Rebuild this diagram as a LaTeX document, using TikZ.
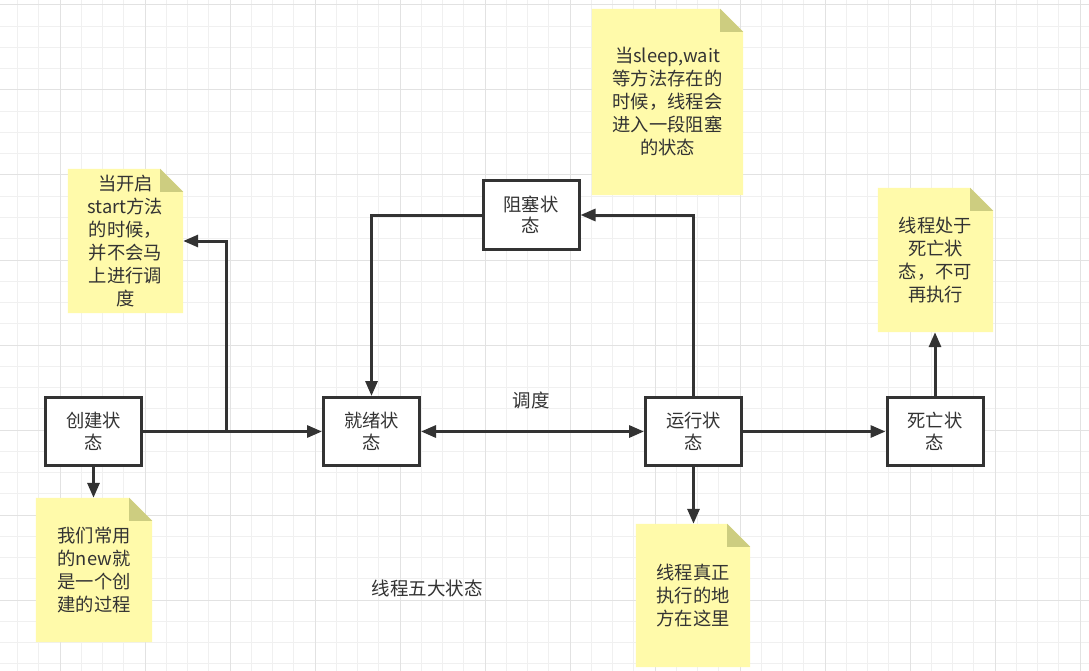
\documentclass[tikz,border=0pt]{standalone}
\usepackage{fontspec}
\setmainfont{Noto Sans CJK SC}
\usetikzlibrary{arrows.meta}
\definecolor{ln}{HTML}{333333}
\definecolor{notefill}{RGB}{255,250,170}
\definecolor{foldc}{RGB}{205,205,128}
\definecolor{gmin}{RGB}{240,240,240}
\definecolor{gmaj}{RGB}{226,226,226}
\pgfdeclarelayer{grid}
\pgfdeclarelayer{bg}
\pgfsetlayers{grid,bg,main}
\newcommand\mynotebg[1]{%
  \begin{pgfonlayer}{bg}
    \fill[notefill] (#1.south west) -- (#1.north west) -- ([xshift=-23pt]#1.north east)
      -- ([yshift=-23pt]#1.north east) -- (#1.south east) -- cycle;
    \fill[foldc] ([xshift=-23pt]#1.north east) -- ([xshift=-23pt,yshift=-23pt]#1.north east)
      -- ([yshift=-23pt]#1.north east) -- cycle;
  \end{pgfonlayer}}
\begin{document}
\begin{tikzpicture}[x=1pt,y=-1pt,
  statebox/.style={draw=ln, line width=3pt, fill=white, minimum width=96pt, minimum height=68pt,
    align=center, text=ln, inner sep=0pt, font=\fontsize{18.3pt}{21.5pt}\selectfont},
  notebox/.style={inner sep=0pt, align=center, text=ln, font=\fontsize{18.3pt}{23pt}\selectfont},
  lbl/.style={inner sep=0pt, text=ln, font=\fontsize{18.5pt}{21pt}\selectfont},
  arr/.style={draw=ln, line width=3pt, -{Triangle[length=15pt,width=12pt]}},
  arrboth/.style={draw=ln, line width=3pt, {Triangle[length=15pt,width=12pt]}-{Triangle[length=15pt,width=12pt]}}
]
\useasboundingbox (0,0) rectangle (1089,671);
\begin{pgfonlayer}{grid}
  \fill[white] (0,0) rectangle (1089,671);
  \foreach \k in {1,...,51}{\pgfmathsetmacro\gx{-3.75+21.25*\k}\draw[gmin,line width=1pt] (\gx,0) -- (\gx,671);}
  \foreach \k in {0,...,31}{\pgfmathsetmacro\gy{5+21.25*\k}\draw[gmin,line width=1pt] (0,\gy) -- (1089,\gy);}
  \foreach \m in {1,...,13}{\pgfmathsetmacro\gx{-25+85*\m}\draw[gmaj,line width=1pt] (\gx,0) -- (\gx,671);}
  \foreach \m in {0,...,7}{\pgfmathsetmacro\gy{5+85*\m}\draw[gmaj,line width=1pt] (0,\gy) -- (1089,\gy);}
\end{pgfonlayer}

% states
\node[statebox] (cr) at (93.5,431.5) {创建状\\态};
\node[statebox] (rd) at (371.5,431.5) {就绪状\\态};
\node[statebox] (run) at (693.5,431.5) {运行状\\态};
\node[statebox] (dead) at (935,431.5) {死亡状\\态};
\node[statebox] (blk) at (531,215) {阻塞状\\态};

% notes
\node[notebox, minimum width=115pt, minimum height=144pt] (n1) at (125.5,241)
  {当开启\\start方法\\的时候，\\并不会马\\上进行调\\度};
\node[notebox, minimum width=151pt, minimum height=186pt] (n2) at (667.5,102)
  {当sleep,wait\\等方法存在的\\时候，线程会\\进入一段阻塞\\的状态};
\node[notebox, minimum width=116pt, minimum height=144pt] (n3) at (94,570)
  {我们常用\\的new就\\是一个创\\建的过程};
\node[notebox, minimum width=115pt, minimum height=144pt] (n4) at (935.5,260)
  {线程处于\\死亡状\\态，不可\\再执行};
\node[notebox, minimum width=114pt, minimum height=143pt] (n5) at (693,595.5)
  {线程真正\\执行的地\\方在这里};
\mynotebg{n1}
\mynotebg{n2}
\mynotebg{n3}
\mynotebg{n4}
\mynotebg{n5}

% labels
\node[lbl] (lb) at (531,400) {调度};
\node[lbl] (title) at (427,588) {线程五大状态};

% connectors
\coordinate (b1) at (226,431.5);
\draw[arr] (cr.east) -- (rd.west);
\draw[arr] (b1) |- (n1.east);
\draw[arr] (cr.south) -- (cr.south |- n3.north);
\draw[arrboth] (rd.east) -- (run.west);
\draw[arr] (run.north) |- (blk.east);
\draw[arr] (blk.west) -| (rd.north);
\draw[arr] (run.east) -- (dead.west);
\draw[arr] (dead.north) -- (dead.north |- n4.south);
\draw[arr] (run.south) -- (run.south |- n5.north);
\end{tikzpicture}
\end{document}
